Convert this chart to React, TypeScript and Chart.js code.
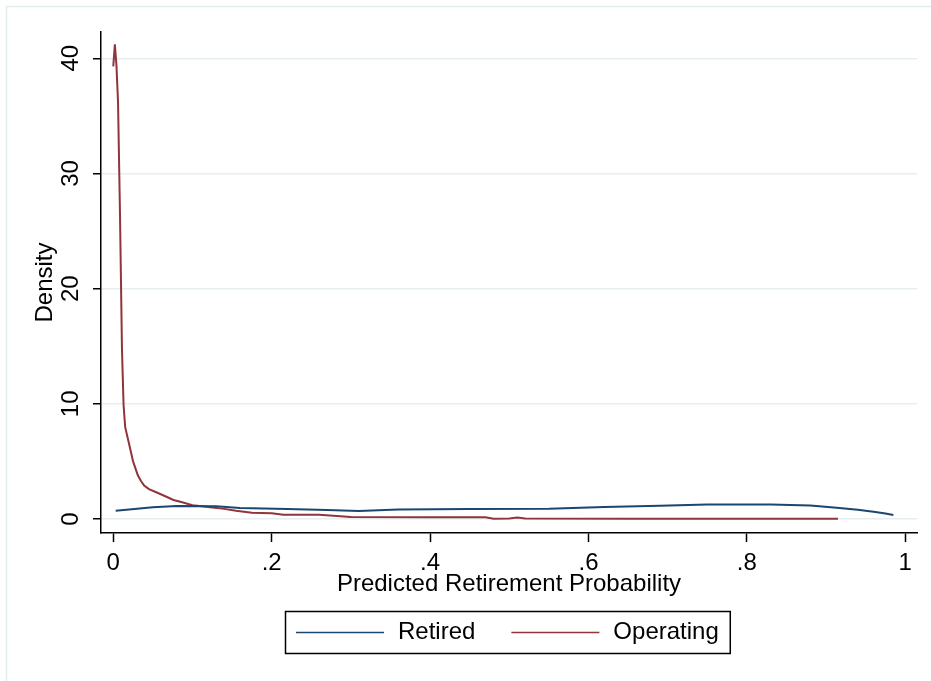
import React, { useEffect, useRef } from "react";
import { Chart, registerables } from "chart.js";

Chart.register(...registerables);

// ---- Data ----
const seriesLabels = ["Retired", "Operating"];

const retiredX = [0.003, 0.02, 0.05, 0.08, 0.13, 0.16, 0.22, 0.27, 0.31, 0.36, 0.45, 0.55, 0.62, 0.69, 0.75, 0.83, 0.88, 0.91, 0.94, 0.96, 0.975, 0.985];
const retiredY = [0.72, 0.82, 1.03, 1.13, 1.1, 0.95, 0.87, 0.78, 0.7, 0.82, 0.87, 0.9, 1.05, 1.15, 1.25, 1.27, 1.17, 1.0, 0.8, 0.62, 0.48, 0.35];

const operatingX = [0.0, 0.002, 0.004, 0.006, 0.0085, 0.011, 0.013, 0.015, 0.018, 0.021, 0.025, 0.028, 0.031, 0.035, 0.039, 0.045, 0.055, 0.065, 0.076, 0.087, 0.1, 0.112, 0.125, 0.14, 0.155, 0.175, 0.2, 0.215, 0.26, 0.3, 0.4, 0.47, 0.48, 0.5, 0.51, 0.52, 0.65, 0.8, 0.915];
const operatingY = [39.3, 41.2, 39.4, 36.2, 26.4, 14.7, 9.9, 8.0, 7.1, 6.2, 5.0, 4.4, 3.8, 3.3, 2.9, 2.6, 2.3, 2.0, 1.65, 1.45, 1.2, 1.1, 1.0, 0.88, 0.72, 0.55, 0.5, 0.38, 0.36, 0.17, 0.15, 0.15, 0.02, 0.04, 0.12, 0.04, 0.03, 0.03, 0.03];

const xTicks = [0, 0.2, 0.4, 0.6, 0.8, 1];
const xTickLabels = ["0", ".2", ".4", ".6", ".8", "1"];
const yTicks = [0, 10, 20, 30, 40];
const yTickLabels = ["0", "10", "20", "30", "40"];

const xTitle = "Predicted Retirement Probability";
const yTitle = "Density";

const seriesColors = ["#1a476f", "#90353b"];

const FONT = "'Liberation Sans', Arial, sans-serif";

const decorPlugin = {
  id: "decor",
  beforeDraw(chart: any) {
    const ctx = chart.ctx;
    ctx.save();
    ctx.fillStyle = "#ffffff";
    ctx.fillRect(0, 0, chart.width, chart.height);
    ctx.strokeStyle = "#e2ebee";
    ctx.lineWidth = 1.5;
    ctx.strokeRect(6.5, 6.5, chart.width + 20, chart.height + 20);
    ctx.restore();
  },
  afterDraw(chart: any) {
    const ctx = chart.ctx;
    const area = chart.chartArea;
    ctx.save();
    ctx.font = `24px ${FONT}`;
    const lineLen = 88;
    const gapLineText = 14;
    const gapItems = 36;
    const padL = 11;
    const padR = 11;
    const datasets = chart.data.datasets;
    const widths = datasets.map((d: any) => ctx.measureText(d.label).width);
    let total = padL + padR;
    widths.forEach((w: number, i: number) => {
      total += lineLen + gapLineText + w + (i < widths.length - 1 ? gapItems : 0);
    });
    const boxTop = 611;
    const boxH = 42;
    const cx = (area.left + area.right) / 2 - 2;
    const boxLeft = Math.round(cx - total / 2);
    ctx.strokeStyle = "#000";
    ctx.lineWidth = 1.5;
    ctx.strokeRect(boxLeft + 0.5, boxTop + 0.5, total, boxH);
    const midY = boxTop + boxH / 2 + 0.5;
    let x = boxLeft + padL;
    datasets.forEach((d: any, i: number) => {
      ctx.strokeStyle = d.borderColor;
      ctx.lineWidth = 1.5;
      ctx.beginPath();
      ctx.moveTo(x, midY);
      ctx.lineTo(x + lineLen, midY);
      ctx.stroke();
      x += lineLen + gapLineText;
      ctx.fillStyle = "#000";
      ctx.textBaseline = "middle";
      ctx.textAlign = "left";
      ctx.fillText(d.label, x, midY);
      x += widths[i] + gapItems;
    });
    ctx.restore();
  },
};

export default function App() {
  const canvasRef = useRef<HTMLCanvasElement | null>(null);

  useEffect(() => {
    const canvas = canvasRef.current;
    if (!canvas) return;
    const mk = (xs: number[], ys: number[]) => xs.map((x, i) => ({ x, y: ys[i] }));
    const chart = new Chart(canvas, {
      type: "line",
      data: {
        datasets: [
          {
            label: seriesLabels[0],
            data: mk(retiredX, retiredY),
            borderColor: seriesColors[0],
            borderWidth: 2,
            pointRadius: 0,
            tension: 0,
            fill: false,
          },
          {
            label: seriesLabels[1],
            data: mk(operatingX, operatingY),
            borderColor: seriesColors[1],
            borderWidth: 2,
            pointRadius: 0,
            tension: 0,
            fill: false,
          },
        ],
      },
      options: {
        responsive: false,
        animation: false,
        events: [],
        layout: { padding: { left: 0, top: 32, right: 14, bottom: 78 } },
        plugins: {
          legend: { display: false },
          tooltip: { enabled: false },
          title: { display: false },
        },
        scales: {
          x: {
            type: "linear",
            min: -0.0155,
            max: 1.0148,
            afterBuildTicks: (scale: any) => {
              scale.ticks = xTicks.map((v) => ({ value: v }));
            },
            afterFit: (scale: any) => {
              scale.height = 70;
            },
            ticks: {
              color: "#000",
              font: { family: FONT, size: 24 },
              padding: 7,
              maxRotation: 0,
              minRotation: 0,
              autoSkip: false,
              callback: (_v: any, i: number) => xTickLabels[i],
            },
            grid: {
              display: true,
              drawOnChartArea: false,
              drawTicks: true,
              tickLength: 9,
              tickColor: "#000",
              tickWidth: 1.5,
            },
            border: { display: true, color: "#000", width: 1.5 },
            title: {
              display: true,
              text: xTitle,
              color: "#000",
              font: { family: FONT, size: 24 },
              padding: { top: 0, bottom: 4 },
            },
          },
          y: {
            type: "linear",
            min: -1.215,
            max: 42.28,
            afterBuildTicks: (scale: any) => {
              scale.ticks = yTicks.map((v) => ({ value: v }));
            },
            afterFit: (scale: any) => {
              scale.width = 101;
            },
            ticks: {
              color: "#000",
              font: { family: FONT, size: 24 },
              padding: 8,
              minRotation: 90,
              maxRotation: 90,
              crossAlign: "center",
              autoSkip: false,
              callback: (_v: any, i: number) => yTickLabels[i],
            },
            grid: {
              display: true,
              drawOnChartArea: true,
              drawTicks: true,
              tickLength: 8,
              color: "#e6eef1",
              lineWidth: 1.5,
              tickColor: "#000",
              tickWidth: 1.5,
            },
            border: { display: true, color: "#000", width: 1.5 },
            title: {
              display: true,
              text: yTitle,
              color: "#000",
              font: { family: FONT, size: 24 },
              padding: { top: 31, bottom: 0 },
            },
          },
        },
      },
      plugins: [decorPlugin],
    } as any);
    return () => chart.destroy();
  }, []);

  return (
    <div style={{ position: "fixed", left: 0, top: 0, width: 931, height: 681, background: "#fff" }}>
      <canvas ref={canvasRef} width={931} height={681} style={{ display: "block", width: 931, height: 681 }} />
    </div>
  );
}
